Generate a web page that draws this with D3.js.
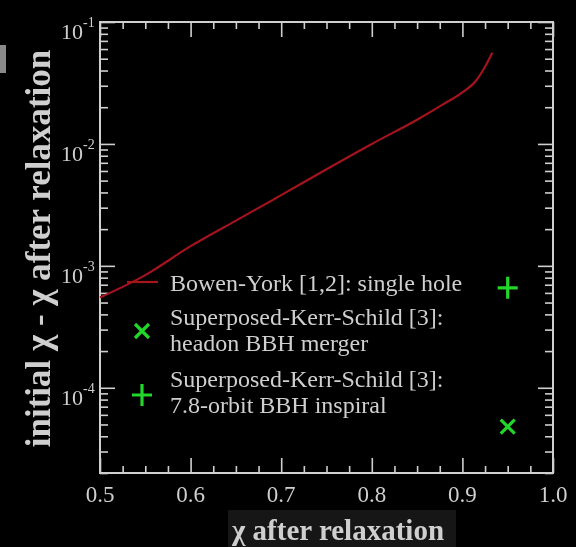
<!DOCTYPE html>
<html>
<head>
<meta charset="utf-8">
<script src="https://cdn.jsdelivr.net/npm/d3@7"></script>
<style>
  html, body { margin: 0; padding: 0; background: #000; }
  svg { display: block; }
  text { font-family: "Liberation Serif", "DejaVu Serif", serif; fill: #cfcfcf; }
</style>
</head>
<body>
<div id="chart"></div>
<script>
// Bowen-York single hole curve
const bowenChi = [0.50, 0.55, 0.60, 0.65, 0.70, 0.75, 0.80, 0.85, 0.88, 0.90, 0.915, 0.925, 0.933];
const bowenDiff = [5.5e-4, 8.4e-4, 1.45e-3, 2.35e-3, 3.8e-3, 6.2e-3, 1.0e-2, 1.58e-2, 2.14e-2, 2.65e-2, 3.3e-2, 4.3e-2, 5.6e-2];
// Superposed-Kerr-Schild points
const headonPoint = [0.95, 4.8e-5];
const inspiralPoint = [0.95, 6.6e-4];

const xMajor = [0.5, 0.6, 0.7, 0.8, 0.9, 1.0];
const xLabels = ['0.5', '0.6', '0.7', '0.8', '0.9', '1.0'];
const yMajorExp = [-1, -2, -3, -4];

const legendLines = {
  bowen: ['Bowen-York [1,2]: single hole'],
  headon: ['Superposed-Kerr-Schild [3]:', 'headon BBH merger'],
  inspiral: ['Superposed-Kerr-Schild [3]:', '7.8-orbit BBH inspiral']
};

const W = 576, H = 547;
const M = { left: 100, top: 22, right: 553, bottom: 473 };
const axisColor = '#cfcfcf';
const red = '#a3121f';
const green = '#22d62a';

const svg = d3.select('#chart').append('svg')
  .attr('width', W).attr('height', H);

svg.append('rect').attr('width', W).attr('height', H).attr('fill', '#000');

const defs = svg.append('defs');
defs.append('filter').attr('id', 'soft')
  .append('feGaussianBlur').attr('stdDeviation', 0.55);

const g = svg.append('g').attr('filter', 'url(#soft)');

// stray grey block at the left edge
g.append('rect').attr('x', 0).attr('y', 45).attr('width', 6).attr('height', 28).attr('fill', '#8a8a8a');

const x = d3.scaleLinear().domain([0.5, 1.0]).range([M.left, M.right]);
const y = d3.scaleLog().domain([2e-5, 1e-1]).range([M.bottom, M.top]);

// minor tick values
const xMinor = d3.range(0.5, 1.0001, 0.025).filter(v => !xMajor.some(m => Math.abs(m - v) < 1e-6));
const yMinor = [];
for (let e = -5; e <= -2; e++) {
  for (let k = 2; k <= 9; k++) {
    const v = k * Math.pow(10, e);
    if (v >= 2e-5 && v < 1e-1) yMinor.push(v);
  }
}
const yMajor = yMajorExp.map(e => Math.pow(10, e));

function styleAxis(sel) {
  sel.select('.domain').remove();
  sel.selectAll('.tick line').attr('stroke', axisColor).attr('stroke-width', 1.6);
  sel.selectAll('.tick text').remove();
}

// bottom / top
g.append('g').attr('transform', `translate(0,${M.bottom})`)
  .call(d3.axisBottom(x).tickValues(xMajor).tickSize(-15).tickFormat('')).call(styleAxis);
g.append('g').attr('transform', `translate(0,${M.bottom})`)
  .call(d3.axisBottom(x).tickValues(xMinor).tickSize(-7).tickFormat('')).call(styleAxis);
g.append('g').attr('transform', `translate(0,${M.top})`)
  .call(d3.axisTop(x).tickValues(xMajor).tickSize(-15).tickFormat('')).call(styleAxis);
g.append('g').attr('transform', `translate(0,${M.top})`)
  .call(d3.axisTop(x).tickValues(xMinor).tickSize(-7).tickFormat('')).call(styleAxis);
// left / right
g.append('g').attr('transform', `translate(${M.left},0)`)
  .call(d3.axisLeft(y).tickValues(yMajor).tickSize(-15).tickFormat('')).call(styleAxis);
g.append('g').attr('transform', `translate(${M.left},0)`)
  .call(d3.axisLeft(y).tickValues(yMinor).tickSize(-8).tickFormat('')).call(styleAxis);
g.append('g').attr('transform', `translate(${M.right},0)`)
  .call(d3.axisRight(y).tickValues(yMajor).tickSize(-15).tickFormat('')).call(styleAxis);
g.append('g').attr('transform', `translate(${M.right},0)`)
  .call(d3.axisRight(y).tickValues(yMinor).tickSize(-8).tickFormat('')).call(styleAxis);

// frame
g.append('rect')
  .attr('x', M.left).attr('y', M.top)
  .attr('width', M.right - M.left).attr('height', M.bottom - M.top)
  .attr('fill', 'none').attr('stroke', axisColor).attr('stroke-width', 2);

// x tick labels
g.selectAll('text.xlab').data(xMajor).join('text')
  .attr('class', 'xlab')
  .attr('x', d => x(d)).attr('y', M.bottom + 29)
  .attr('text-anchor', 'middle').attr('font-size', 23)
  .text((d, i) => xLabels[i]);

// y tick labels 10^n
yMajorExp.forEach(e => {
  const yy = y(Math.pow(10, e));
  const t = g.append('text').attr('x', 61).attr('y', yy + 17).attr('font-size', 22);
  t.append('tspan').text('10');
  t.append('tspan').attr('dy', -12).attr('font-size', 14).text('-' + Math.abs(e));
});

// axis titles
g.append('text')
  .attr('transform', `translate(50,${(40 + 457) / 2}) rotate(-90)`)
  .attr('text-anchor', 'middle').attr('font-size', 35).attr('font-weight', 'bold')
  .text('initial χ - χ after relaxation');

g.append('rect').attr('x', 228).attr('y', 510).attr('width', 228).attr('height', 37).attr('fill', '#191919');
g.append('text')
  .attr('x', 338).attr('y', 540)
  .attr('text-anchor', 'middle').attr('font-size', 29).attr('font-weight', 'bold')
  .text('χ after relaxation');

// Bowen-York curve
const line = d3.line().x(d => x(d[0])).y(d => y(d[1])).curve(d3.curveMonotoneX);
g.append('path')
  .datum(d3.zip(bowenChi, bowenDiff))
  .attr('d', line)
  .attr('fill', 'none').attr('stroke', red).attr('stroke-width', 2.2);

// markers
function plusMark(sel, cx, cy) {
  sel.append('path')
    .attr('d', `M${cx - 10},${cy}H${cx + 10}M${cx},${cy - 11}V${cy + 11}`)
    .attr('stroke', green).attr('stroke-width', 3.2).attr('fill', 'none');
}
function crossMark(sel, cx, cy) {
  sel.append('path')
    .attr('d', `M${cx - 7},${cy - 7}L${cx + 7},${cy + 7}M${cx - 7},${cy + 7}L${cx + 7},${cy - 7}`)
    .attr('stroke', green).attr('stroke-width', 3.2).attr('fill', 'none');
}
crossMark(g, x(headonPoint[0]), y(headonPoint[1]));
plusMark(g, x(inspiralPoint[0]), y(inspiralPoint[1]));

// legend
const lg = g.append('g');
lg.append('line').attr('x1', 127).attr('x2', 158).attr('y1', 282).attr('y2', 282)
  .attr('stroke', red).attr('stroke-width', 2.2);
crossMark(lg, 142, 331);
plusMark(lg, 142, 395);

const legendFont = 24;
lg.append('text').attr('x', 170).attr('y', 291).attr('font-size', legendFont).text(legendLines.bowen[0]);
legendLines.headon.forEach((s, i) => {
  lg.append('text').attr('x', 170).attr('y', 325 + i * 26).attr('font-size', legendFont).text(s);
});
legendLines.inspiral.forEach((s, i) => {
  lg.append('text').attr('x', 170).attr('y', 387 + i * 26).attr('font-size', legendFont).text(s);
});
</script>
</body>
</html>
